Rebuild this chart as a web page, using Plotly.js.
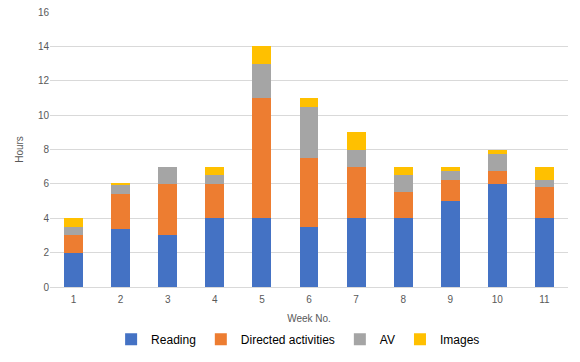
<!DOCTYPE html>
<html><head><meta charset="utf-8">
<script src="https://cdn.plot.ly/plotly-3.0.1.min.js"></script>
<style>html,body{margin:0;padding:0;background:#fff}#chart{width:580px;height:362px}</style>
</head><body><div id="chart"></div>
<script>
const weeks = ["1","2","3","4","5","6","7","8","9","10","11"];
const reading = [2, 3.4, 3, 4, 4, 3.5, 4, 4, 5, 6, 4];
const directed = [1, 2, 3, 2, 7, 4, 3, 1.5, 1.25, 0.75, 1.8];
const av = [0.5, 0.55, 1, 0.5, 2, 3, 1, 1, 0.5, 1.0, 0.45];
const images = [0.5, 0.1, 0, 0.5, 1, 0.5, 1, 0.5, 0.25, 0.25, 0.75];
const names = ["Reading", "Directed activities", "AV", "Images"];
const colors = ["#4472C4", "#ED7D31", "#A5A5A5", "#FFC000"];
const series = [reading, directed, av, images];
const data = series.map((s, i) => ({
  type: "bar", x: weeks, y: s, name: names[i],
  marker: {color: colors[i], line: {width: 0}},
  hoverinfo: "none"
}));
const layout = {
  width: 580, height: 362,
  margin: {l: 50, r: 12, t: 12, b: 75},
  barmode: "stack", bargap: 0.6,
  paper_bgcolor: "#fff", plot_bgcolor: "#fff",
  font: {family: "Liberation Sans, Arial, sans-serif", color: "#595959", size: 10},
  xaxis: {
    type: "category", showgrid: false, zeroline: false, showline: false, automargin: false,
    ticks: "", ticklabelstandoff: 5, tickfont: {size: 10, color: "#595959"},
    title: {text: "Week No.", font: {size: 10, color: "#595959"}, standoff: 10}
  },
  yaxis: {
    range: [0, 16], dtick: 2, showgrid: true, gridcolor: "#d9d9d9", gridwidth: 1,
    zeroline: true, zerolinecolor: "#d9d9d9", zerolinewidth: 1, automargin: false,
    showline: false, ticks: "", tickfont: {size: 10, color: "#595959"},
    title: {text: "Hours", font: {size: 10, color: "#595959"}, standoff: 12}
  },
  showlegend: true,
  legend: {
    orientation: "h", xref: "container", yref: "container",
    x: 0.514, xanchor: "center", y: 0.103, yanchor: "top",
    font: {size: 12, color: "#000"}, traceorder: "normal",
    itemwidth: 30
  }
};
Plotly.newPlot("chart", data, layout, {displayModeBar: false, staticPlot: true});
</script></body></html>
